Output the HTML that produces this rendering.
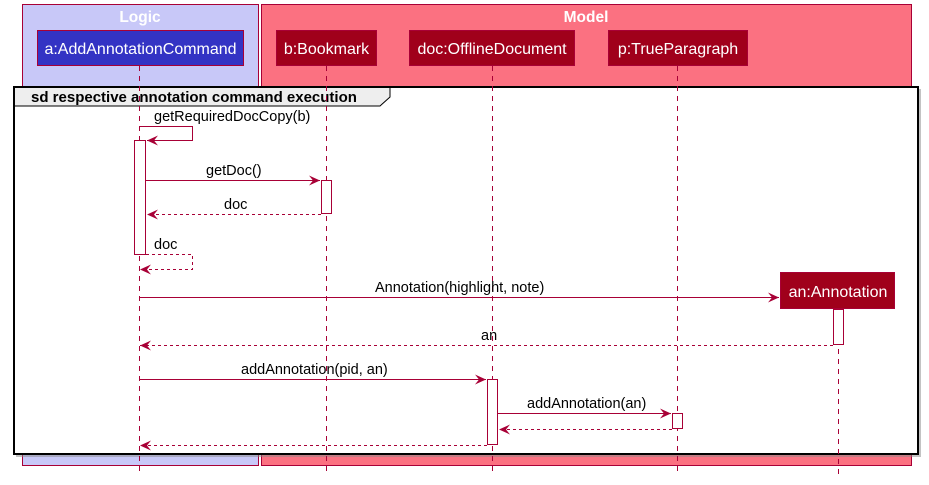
<!DOCTYPE html>
<html><head><meta charset="utf-8"><style>
html,body{margin:0;padding:0;background:#fff;}
svg{display:block;font-family:"Liberation Sans",sans-serif;}
</style></head><body>
<svg width="929" height="485" viewBox="0 0 929 485" xmlns="http://www.w3.org/2000/svg">
<defs>
<marker id="ar" markerWidth="12" markerHeight="10" refX="11" refY="5" orient="auto" markerUnits="userSpaceOnUse">
<path d="M0,0 L11,5 L0,10 L4,5 Z" fill="#A80036"/>
</marker>
</defs>
<rect x="22.5" y="4.5" width="236" height="461" fill="#C8C8F8" stroke="#A80036"/>
<rect x="261.5" y="4.5" width="650" height="461" fill="#FB7181" stroke="#A80036"/>
<text x="140" y="22" font-size="15.5" font-weight="bold" fill="#fff" text-anchor="middle">Logic</text>
<text x="586" y="22" font-size="15.5" font-weight="bold" fill="#fff" text-anchor="middle">Model</text>
<rect x="37.5" y="30.5" width="206" height="35" fill="#3333C4" stroke="#A80036"/>
<text x="140.5" y="54" font-size="16" fill="#fff" text-anchor="middle">a:AddAnnotationCommand</text>
<rect x="276.5" y="30.5" width="100" height="35" fill="#A0001B" stroke="#A80036"/>
<text x="326.5" y="54" font-size="16" fill="#fff" text-anchor="middle">b:Bookmark</text>
<rect x="409.5" y="30.5" width="165" height="35" fill="#A0001B" stroke="#A80036"/>
<text x="492" y="54" font-size="16" fill="#fff" text-anchor="middle">doc:OfflineDocument</text>
<rect x="608.5" y="30.5" width="139" height="35" fill="#A0001B" stroke="#A80036"/>
<text x="678" y="54" font-size="16" fill="#fff" text-anchor="middle">p:TrueParagraph</text>
<rect x="16" y="89" width="905" height="368" fill="#888" opacity="0.5"/>
<rect x="14" y="87" width="904" height="367" fill="#fff" stroke="#000" stroke-width="2"/>
<path d="M14,87 L390,87 L390,97 L380,106 L14,106 Z" fill="#EEEEEE" stroke="#000" stroke-width="1"/>
<rect x="14" y="87" width="904" height="367" fill="none" stroke="#000" stroke-width="2"/>
<text x="31" y="102" font-size="15" font-weight="bold" fill="#000">sd respective annotation command execution</text>
<g stroke="#A80036" stroke-dasharray="5,5" stroke-width="1">
<line x1="139.5" y1="66" x2="139.5" y2="476"/>
<line x1="326.5" y1="66" x2="326.5" y2="476"/>
<line x1="492.5" y1="66" x2="492.5" y2="476"/>
<line x1="677.5" y1="66" x2="677.5" y2="476"/>
<line x1="838.5" y1="309" x2="838.5" y2="476"/>
</g>
<rect x="780.5" y="272.5" width="114" height="36" fill="#A0001B" stroke="#A80036"/>
<text x="838" y="297" font-size="16" fill="#fff" text-anchor="middle">an:Annotation</text>
<g fill="#fff" stroke="#A80036">
<rect x="134.5" y="140.5" width="11" height="114"/>
<rect x="321.5" y="180.5" width="10" height="33"/>
<rect x="833.5" y="309.5" width="10" height="35"/>
<rect x="487.5" y="379.5" width="10" height="65"/>
<rect x="672.5" y="413.5" width="10" height="15"/>
</g>
<g stroke="#A80036" fill="none" stroke-width="1">
<polyline points="140,126.5 192.5,126.5 192.5,140.5 147,140.5" marker-end="url(#ar)"/>
<line x1="146" y1="180.5" x2="320" y2="180.5" marker-end="url(#ar)"/>
<line x1="321" y1="214.5" x2="147" y2="214.5" stroke-dasharray="3,3" marker-end="url(#ar)"/>
<polyline points="146,254.5 192.5,254.5 192.5,269.5 140,269.5" stroke-dasharray="3,3" marker-end="url(#ar)"/>
<line x1="140" y1="297.5" x2="779" y2="297.5" marker-end="url(#ar)"/>
<line x1="833" y1="345.5" x2="140" y2="345.5" stroke-dasharray="3,3" marker-end="url(#ar)"/>
<line x1="140" y1="379.5" x2="486" y2="379.5" marker-end="url(#ar)"/>
<line x1="498" y1="413.5" x2="671" y2="413.5" marker-end="url(#ar)"/>
<line x1="672" y1="429.5" x2="499" y2="429.5" stroke-dasharray="3,3" marker-end="url(#ar)"/>
<line x1="487" y1="445.5" x2="140" y2="445.5" stroke-dasharray="3,3" marker-end="url(#ar)"/>
</g>
<g font-size="14.5" fill="#000">
<text x="154" y="121">getRequiredDocCopy(b)</text>
<text x="206" y="175">getDoc()</text>
<text x="224" y="209">doc</text>
<text x="154" y="249">doc</text>
<text x="375" y="292">Annotation(highlight, note)</text>
<text x="481" y="340">an</text>
<text x="241" y="374">addAnnotation(pid, an)</text>
<text x="527" y="408">addAnnotation(an)</text>
</g>
</svg>
</body></html>
